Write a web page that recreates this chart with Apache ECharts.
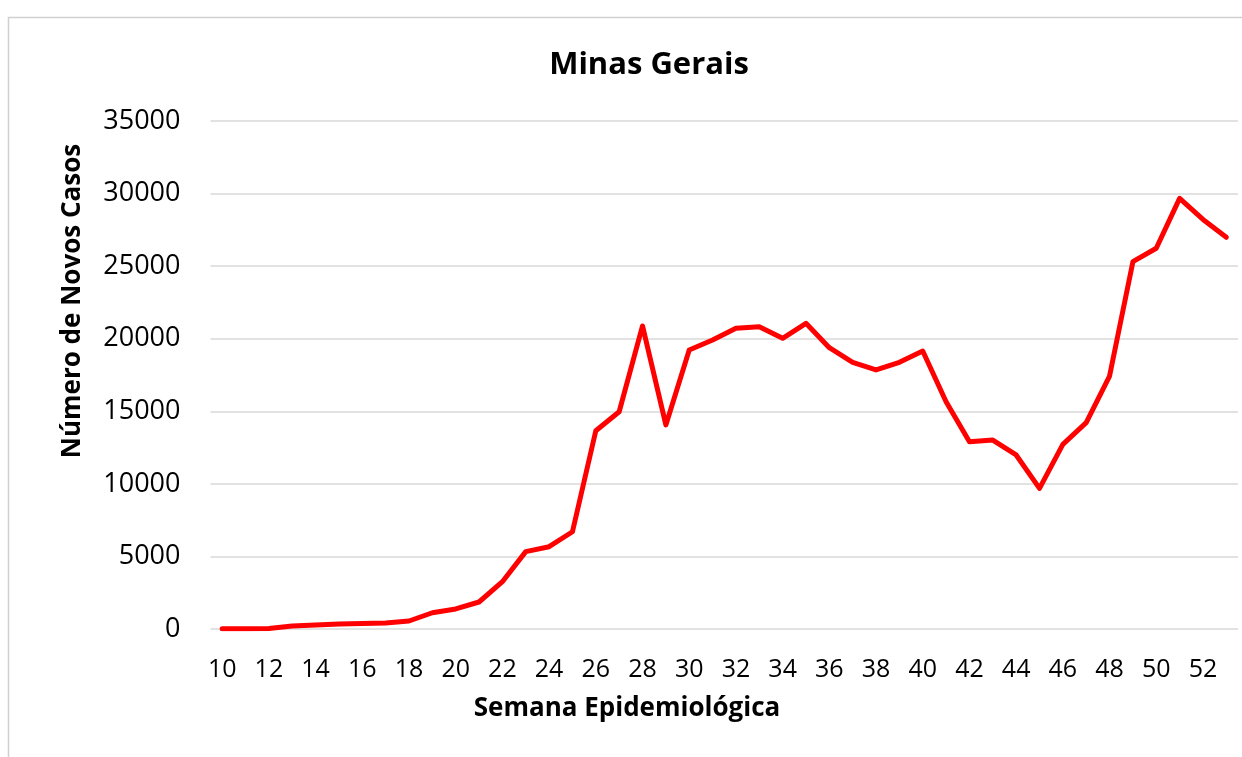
<!DOCTYPE html>
<html>
<head>
<meta charset="utf-8">
<script src="https://cdn.jsdelivr.net/npm/echarts@6/dist/echarts.min.js"></script>
<style>html,body{margin:0;padding:0;background:#fff}#c{width:1242px;height:757px}</style>
</head>
<body>
<div id="c"></div>
<script>
const weeks = [10,11,12,13,14,15,16,17,18,19,20,21,22,23,24,25,26,27,28,29,30,31,32,33,34,35,36,37,38,39,40,41,42,43,44,45,46,47,48,49,50,51,52,53];
const cases = [10,10,30,200,280,350,380,420,550,1120,1380,1860,3260,5330,5670,6700,13660,14970,20880,14060,19220,19910,20720,20830,20030,21060,19380,18370,17850,18370,19150,15660,12900,13020,11990,9690,12720,14220,17430,25310,26230,29670,28220,26990];
const yTicks = [0,5000,10000,15000,20000,25000,30000,35000];
const titleText = 'Minas Gerais';
const xName = 'Semana Epidemiológica';
const yName = 'Número de Novos Casos';

const font = 'Open Sans';
const chart = echarts.init(document.getElementById('c'));
chart.setOption({
  animation: false,
  backgroundColor: '#fff',
  graphic: [
    {type: 'rect', shape: {x: 8.5, y: 17.5, width: 1250, height: 760},
     style: {fill: 'none', stroke: '#d0d0d0', lineWidth: 1.5}, z: -1},
    {type: 'text', x: 73, y: 301, rotation: Math.PI / 2,
     style: {text: yName, fontFamily: font, fontWeight: 'bold', fontSize: 26, fill: '#000', align: 'center', verticalAlign: 'middle'}},
    {type: 'text', x: 627, y: 709,
     style: {text: xName, fontFamily: font, fontWeight: 'bold', fontSize: 26, fill: '#000', align: 'center', verticalAlign: 'middle'}}
  ],
  title: {
    text: titleText, left: 644, textAlign: 'center', top: 45,
    textStyle: {fontFamily: font, fontWeight: 'bold', fontSize: 31, color: '#000'}
  },
  grid: {left: 210.5, right: 4, top: 121, bottom: 128, containLabel: false},
  xAxis: {
    type: 'category', data: weeks.map(String), boundaryGap: true,
    axisLine: {show: false}, axisTick: {show: false},
    axisLabel: {interval: 1, fontFamily: font, fontSize: 25, color: '#000', margin: 28}
  },
  yAxis: {
    type: 'value', min: yTicks[0], max: yTicks[yTicks.length-1], interval: 5000,
    axisLine: {show: false}, axisTick: {show: false},
    axisLabel: {fontFamily: font, fontSize: 27, color: '#000', margin: 30, formatter: v => String(v)},
    splitLine: {lineStyle: {color: '#d9d9d9', width: 1.5}}
  },
  series: [{
    type: 'line', data: cases, symbol: 'none',
    lineStyle: {color: '#ff0000', width: 5, cap: 'round', join: 'round'}
  }]
});
</script>
</body>
</html>
